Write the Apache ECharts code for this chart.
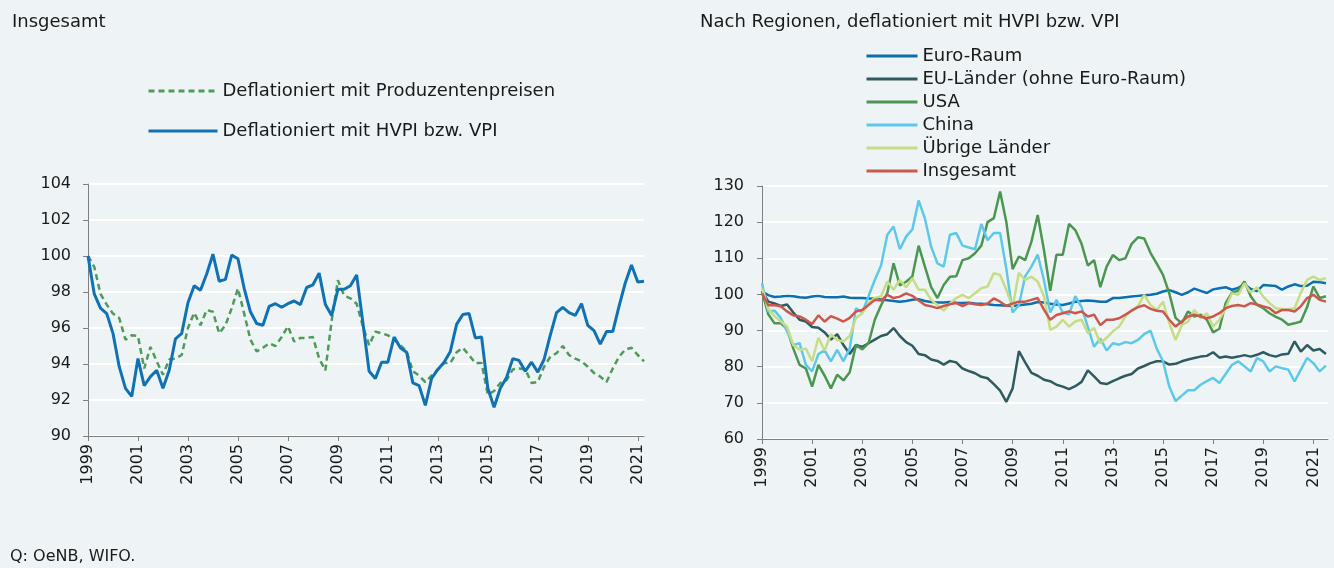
<!DOCTYPE html>
<html>
<head>
<meta charset="utf-8">
<script src="https://cdn.jsdelivr.net/npm/echarts@6/dist/echarts.min.js"></script>
<style>
html,body{margin:0;padding:0;background:#eef4f5;}
#chart{width:1334px;height:568px;}
</style>
</head>
<body>
<div id="chart"></div>
<script>
// left panel: quarterly, 1999Q1 - 2021Q2
const quarters = [];
for (let y = 1999; y <= 2021; y++) for (let q = 1; q <= 4; q++) quarters.push(y + 'Q' + q);
quarters.length = 90;

const hvpi = [100.0, 97.9, 97.1, 96.8, 95.7, 93.85, 92.65, 92.2, 94.3, 92.8,
  93.3, 93.65, 92.65, 93.65, 95.4, 95.7, 97.4, 98.35, 98.1, 99.0,
  100.1, 98.6, 98.7, 100.05, 99.85, 98.2, 96.9, 96.25, 96.15, 97.2,
  97.35, 97.15, 97.35, 97.5, 97.3, 98.25, 98.4, 99.05, 97.3, 96.7,
  98.15, 98.15, 98.35, 98.95, 96.3, 93.6, 93.2, 94.1, 94.1, 95.5,
  94.9, 94.65, 92.95, 92.8, 91.7, 93.2, 93.7, 94.1, 94.7, 96.2,
  96.75, 96.8, 95.45, 95.5, 92.65, 91.6, 92.65, 93.25, 94.3, 94.2,
  93.6, 94.1, 93.55, 94.25, 95.6, 96.85, 97.15, 96.85, 96.7, 97.35,
  96.15, 95.85, 95.1, 95.8, 95.8, 97.2, 98.5, 99.5, 98.55, 98.6];

const ppi = [100.0, 99.4, 97.9, 97.3, 96.8, 96.55, 95.35, 95.6, 95.55, 93.75,
  94.95, 94.15, 93.4, 94.25, 94.3, 94.5, 96.0, 96.85, 96.15, 97.0,
  96.9, 95.7, 96.15, 97.1, 98.2, 96.8, 95.35, 94.7, 94.9, 95.15,
  95.0, 95.5, 96.1, 95.25, 95.45, 95.45, 95.5, 94.3, 93.65, 96.4,
  98.65, 97.8, 97.65, 97.35, 96.1, 95.05, 95.8, 95.7, 95.6, 95.35,
  95.05, 94.7, 93.6, 93.35, 93.0, 93.35, 93.7, 94.05, 94.05, 94.65,
  94.9, 94.5, 94.05, 94.05, 92.3, 92.5, 92.95, 93.1, 93.7, 93.75,
  93.7, 92.95, 93.0, 93.85, 94.4, 94.6, 95.0, 94.5, 94.3, 94.15,
  93.85, 93.5, 93.3, 93.0, 93.75, 94.4, 94.8, 94.9, 94.5, 94.15];

// right panel: monthly axis 1999-01 - 2021-08, values read every 3rd month
const months = [];
for (let y = 1999; y <= 2021; y++) for (let m = 1; m <= 12; m++) months.push(y + '-' + String(m).padStart(2, '0'));
months.length = 272;
const sampleMonths = [];
for (let i = 0; i <= 270; i += 3) sampleMonths.push(i);

const euroRaum = [100.8, 99.8, 99.3, 99.4, 99.6, 99.5, 99.2, 99.1, 99.4, 99.6, 99.3, 99.2,
  99.2, 99.4, 99.1, 99.0, 99.0, 98.9, 98.8, 98.6, 98.4, 98.2, 98.0, 98.2,
  98.5, 98.7, 98.2, 97.9, 97.8, 97.8, 97.9, 97.7, 97.6, 97.7, 97.5, 97.4,
  97.3, 97.1, 97.0, 96.9, 96.8, 97.0, 97.2, 97.4, 97.9, 97.8, 97.4, 97.2,
  97.1, 97.5, 98.0, 98.2, 98.3, 98.2, 98.0, 98.0, 99.0, 99.0, 99.2, 99.4,
  99.6, 99.8, 99.9, 100.2, 100.8, 101.2, 100.6, 99.9, 100.6, 101.6, 101.0, 100.4,
  101.4, 101.7, 102.0, 101.3, 101.8, 102.8, 101.5, 100.9, 102.6, 102.5, 102.3, 101.3,
  102.2, 102.8, 102.3, 102.4, 103.5, 103.4, 103.1];

const euLaender = [101.0, 98.0, 97.5, 96.8, 97.2, 95.0, 93.0, 92.5, 91.0, 90.8, 89.5, 87.5,
  89.0, 86.0, 83.5, 86.0, 85.5, 86.5, 87.5, 88.5, 89.0, 90.7, 88.5, 86.8,
  85.8, 83.5, 83.2, 82.0, 81.6, 80.6, 81.6, 81.2, 79.5, 78.8, 78.2, 77.2,
  76.8, 75.2, 73.4, 70.3, 74.0, 84.3, 81.2, 78.3, 77.5, 76.4, 76.0, 75.0,
  74.5, 73.8, 74.6, 75.8, 79.0, 77.3, 75.5, 75.2, 76.0, 76.8, 77.5, 78.0,
  79.5, 80.2, 81.0, 81.5, 81.5, 80.6, 80.8, 81.5, 82.0, 82.4, 82.8, 83.0,
  84.0, 82.5, 82.8, 82.5, 82.8, 83.2, 82.8, 83.3, 84.0, 83.2, 82.8, 83.4,
  83.6, 87.0, 84.2, 86.0, 84.5, 84.9, 83.5];

const usa = [100.8, 94.5, 92.0, 92.0, 90.5, 85.0, 80.5, 79.5, 74.5, 80.5, 77.5, 74.0,
  77.8, 76.2, 78.5, 86.0, 84.8, 86.5, 93.0, 97.0, 100.4, 108.6, 102.5, 103.5,
  105.0, 113.5, 107.7, 102.0, 99.0, 102.6, 104.9, 105.0, 109.5, 110.0, 111.4, 113.5,
  120.0, 121.1, 128.5, 120.0, 107.0, 110.5, 109.5, 114.6, 122.0, 112.3, 101.0, 111.0,
  111.0, 119.5, 117.8, 114.0, 108.0, 109.5, 102.0, 107.7, 110.9, 109.5, 110.0, 114.0,
  115.8, 115.5, 111.5, 108.5, 105.4, 100.3, 93.5, 92.0, 95.3, 93.9, 94.4, 93.0,
  89.5, 90.5, 97.6, 100.5, 101.0, 103.6, 99.5, 97.1, 96.2, 94.8, 93.8, 93.0,
  91.6, 92.0, 92.5, 96.5, 102.2, 99.0, 99.5];

const china = [103.1, 95.3, 95.5, 93.5, 89.8, 86.0, 86.5, 80.5, 78.7, 83.5, 84.5, 81.5,
  84.7, 81.5, 85.0, 96.2, 95.0, 99.5, 104.0, 108.0, 116.5, 118.8, 112.5, 116.0,
  118.0, 126.0, 121.0, 113.2, 108.6, 107.7, 116.5, 117.0, 113.5, 113.0, 112.5, 119.5,
  115.0, 117.0, 117.0, 107.0, 95.0, 97.0, 105.0, 107.7, 111.0, 104.0, 95.0, 98.5,
  95.0, 94.5, 99.5, 96.5, 91.0, 85.5, 87.8, 84.5, 86.5, 86.1, 86.8, 86.5,
  87.4, 89.0, 90.0, 85.0, 81.5, 74.5, 70.5, 72.0, 73.5, 73.5, 75.0, 76.0,
  76.9, 75.5, 78.0, 80.5, 81.5, 80.1, 78.7, 82.4, 81.5, 78.7, 80.1, 79.6,
  79.2, 75.9, 79.2, 82.4, 81.0, 78.7, 80.3];

const uebrige = [101.7, 96.0, 94.0, 92.5, 91.1, 86.0, 84.7, 85.0, 81.5, 88.0, 84.5, 89.0,
  87.4, 87.0, 88.5, 93.5, 94.8, 97.6, 99.0, 99.5, 103.6, 101.3, 104.0, 102.0,
  104.5, 101.3, 101.3, 98.5, 97.1, 95.5, 97.5, 99.0, 99.9, 99.0, 100.3, 101.7,
  102.2, 105.9, 105.4, 101.3, 96.5, 106.0, 104.0, 104.9, 103.6, 99.5, 90.2, 91.1,
  93.0, 91.1, 92.5, 93.0, 89.3, 90.7, 86.5, 88.0, 89.8, 91.1, 93.9, 95.7,
  96.7, 99.9, 97.1, 95.7, 98.0, 92.1, 87.4, 91.5, 92.5, 95.7, 93.4, 94.8,
  91.1, 93.0, 96.2, 100.3, 99.9, 103.1, 100.5, 102.0, 99.4, 97.6, 96.2, 95.9,
  95.9, 96.2, 100.5, 104.0, 104.9, 104.0, 104.5];

const insgesamt = [100.3, 97.0, 97.0, 96.7, 95.3, 94.2, 93.9, 93.0, 91.8, 94.2, 92.5, 94.0,
  93.3, 92.5, 93.5, 95.3, 95.7, 97.1, 98.5, 98.3, 99.9, 99.0, 99.4, 100.3,
  99.6, 98.3, 97.1, 96.7, 96.2, 96.8, 97.3, 97.6, 96.8, 97.6, 97.3, 97.1,
  97.5, 98.9, 98.0, 96.8, 97.5, 98.0, 98.0, 98.5, 99.0, 95.8, 93.0, 94.3,
  94.8, 95.3, 94.8, 95.3, 93.9, 94.4, 91.5, 93.0, 93.0, 93.4, 94.4, 95.5,
  96.5, 97.0, 96.0, 95.5, 95.3, 93.0, 91.1, 92.5, 93.9, 94.4, 93.9, 93.4,
  93.9, 94.8, 96.2, 96.8, 97.1, 96.7, 97.6, 97.2, 96.7, 96.2, 94.8, 95.7,
  95.7, 95.3, 96.7, 99.0, 99.9, 98.5, 98.0];

const FONT = 'DejaVu Sans';
const axisGray = '#7f7f7f';
const textColor = '#1a1a1a';

function xAxisFor(cats, step, gridIndex) {
  return {
    type: 'category', gridIndex: gridIndex, data: cats, boundaryGap: false,
    axisLine: { lineStyle: { color: axisGray, width: 1 } },
    axisTick: { interval: step, length: 5, lineStyle: { color: axisGray } },
    axisLabel: {
      interval: step, rotate: 90, margin: 8, color: textColor,
      fontFamily: FONT, fontSize: 16,
      formatter: function (v) { return v.slice(0, 4); }
    },
    splitLine: { show: false }
  };
}

function yAxisFor(min, max, step, gridIndex, gap) {
  return {
    type: 'value', gridIndex: gridIndex, min: min, max: max, interval: step,
    axisLine: { show: true, lineStyle: { color: axisGray, width: 1 } },
    axisTick: { show: true, length: 5, lineStyle: { color: axisGray } },
    axisLabel: { color: textColor, fontFamily: FONT, fontSize: 16, margin: gap },
    splitLine: { lineStyle: { color: '#ffffff', width: 2 } }
  };
}

function monthly(vals) {
  return vals.map(function (v, i) { return [sampleMonths[i], v]; });
}

function regionLine(name, vals, color) {
  return {
    name: name, type: 'line', xAxisIndex: 1, yAxisIndex: 1,
    data: monthly(vals), symbol: 'none',
    lineStyle: { color: color, width: 2.5 }, itemStyle: { color: color }
  };
}

const titleStyle = { fontFamily: FONT, fontSize: 18, fontWeight: 'normal', color: textColor };

const myChart = echarts.init(document.getElementById('chart'));
myChart.setOption({
  backgroundColor: '#eef4f5',
  animation: false,
  textStyle: { fontFamily: FONT },
  title: [
    { text: 'Insgesamt', left: 12, top: 13, padding: 0, textStyle: titleStyle },
    { text: 'Nach Regionen, deflationiert mit HVPI bzw. VPI', left: 700, top: 13, padding: 0, textStyle: titleStyle },
    { text: 'Q: OeNB, WIFO.', left: 10, top: 549, padding: 0, textStyle: { fontFamily: FONT, fontSize: 16, fontWeight: 'normal', color: textColor } }
  ],
  legend: [
    {
      data: ['Deflationiert mit Produzentenpreisen', 'Deflationiert mit HVPI bzw. VPI'],
      orient: 'vertical', left: 147, top: 82, padding: 0,
      itemWidth: 69, itemHeight: 14, itemGap: 22,
      itemStyle: { opacity: 0 }, lineStyle: { width: 3 },
      textStyle: { fontFamily: FONT, fontSize: 18, color: textColor }
    },
    {
      data: ['Euro-Raum', 'EU-Länder (ohne Euro-Raum)', 'USA', 'China', 'Übrige Länder', 'Insgesamt'],
      orient: 'vertical', left: 865, top: 47, padding: 0,
      itemWidth: 51, itemHeight: 14, itemGap: 5,
      itemStyle: { opacity: 0 }, lineStyle: { width: 3 },
      textStyle: { fontFamily: FONT, fontSize: 18, color: textColor }
    }
  ],
  grid: [
    { left: 88, right: 690, top: 184, bottom: 132 },
    { left: 762, right: 6, top: 186, bottom: 129 }
  ],
  xAxis: [xAxisFor(quarters, 7, 0), xAxisFor(months, 23, 1)],
  yAxis: [yAxisFor(90, 104, 2, 0, 17), yAxisFor(60, 130, 10, 1, 18)],
  series: [
    {
      name: 'Deflationiert mit Produzentenpreisen', type: 'line', xAxisIndex: 0, yAxisIndex: 0,
      data: ppi, symbol: 'none',
      lineStyle: { color: '#4f9a5a', width: 2.5, type: [6, 4] }, itemStyle: { color: '#4f9a5a' }
    },
    {
      name: 'Deflationiert mit HVPI bzw. VPI', type: 'line', xAxisIndex: 0, yAxisIndex: 0,
      data: hvpi, symbol: 'none',
      lineStyle: { color: '#1072b5', width: 3 }, itemStyle: { color: '#1072b5' }
    },
    regionLine('Euro-Raum', euroRaum, '#0b6fb0'),
    regionLine('EU-Länder (ohne Euro-Raum)', euLaender, '#2f5b5f'),
    regionLine('USA', usa, '#4b9651'),
    regionLine('China', china, '#5ec8ea'),
    regionLine('Übrige Länder', uebrige, '#c6dd86'),
    regionLine('Insgesamt', insgesamt, '#cc584d')
  ]
});
</script>
</body>
</html>
